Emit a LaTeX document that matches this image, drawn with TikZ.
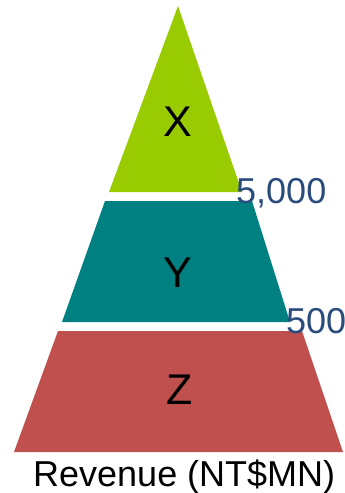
\documentclass[tikz,border=0pt]{standalone}
\usepackage{fontspec}
\setmainfont{Liberation Sans}
\definecolor{cx}{HTML}{99CC00}
\definecolor{cy}{HTML}{008080}
\definecolor{cz}{HTML}{C0504D}
\definecolor{cnum}{HTML}{2A4C7D}
\begin{document}
\begin{tikzpicture}[x=1pt,y=-1pt,
  layer/.style={inner sep=0pt, font=\fontsize{43}{46}\selectfont},
  num/.style={inner sep=0pt, anchor=base west, text=cnum, font=\fontsize{36}{40}\selectfont},
  axis/.style={inner sep=0pt, anchor=base west, font=\fontsize{36}{40}\selectfont}]
\useasboundingbox (0,0) rectangle (345,493);
\fill[cx] (178,6) -- (242,192) -- (109,192) -- cycle;
\fill[cy] (105,201) -- (252,201) -- (290,322) -- (62,322) -- cycle;
\fill[cz] (58,331) -- (302,331) -- (343,452) -- (14,452) -- cycle;
\node[layer] (x) at (178,122) {X};
\node[layer] (y) at (178,273) {Y};
\node[layer] (z) at (180,390) {Z};
\node[num] (n5000) at (236,203) {5,000};
\node[num] (n500) at (286,333) {500};
\node[axis] (rev) at (33,486) {Revenue (NT\$MN)};
\end{tikzpicture}
\end{document}
